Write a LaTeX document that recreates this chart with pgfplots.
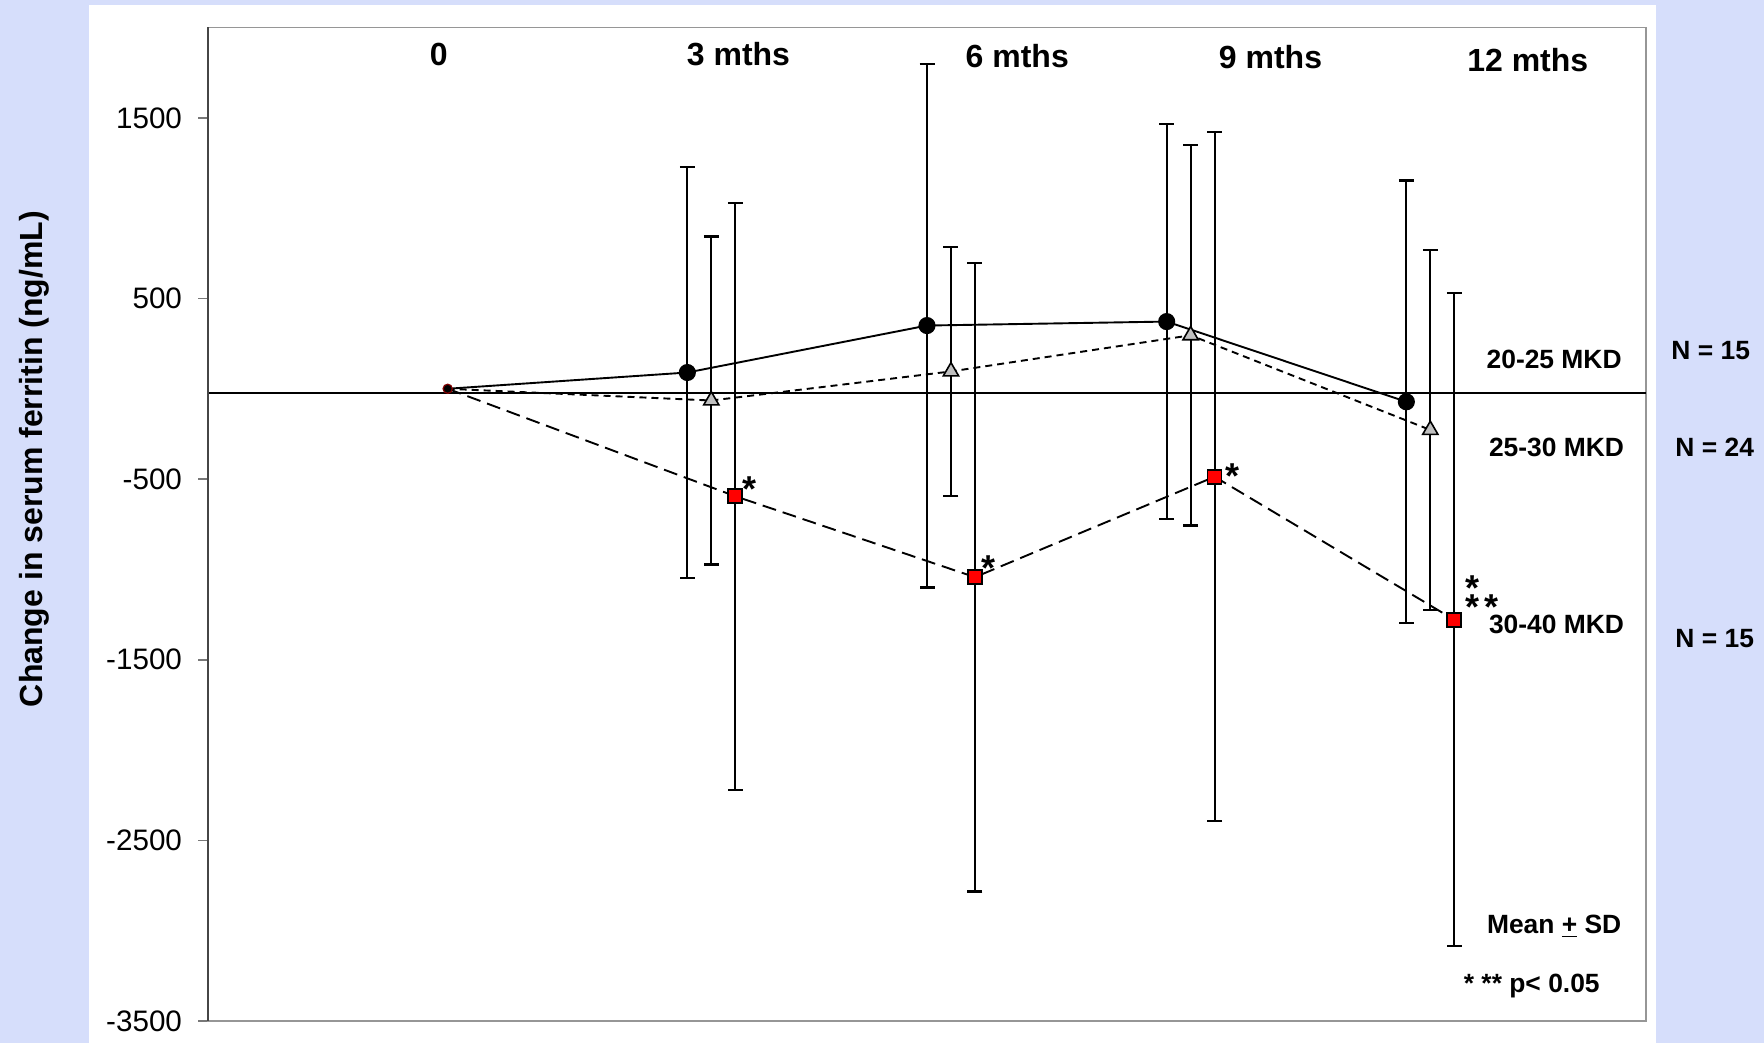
\documentclass[border=0pt]{standalone}
\usepackage{pgfplots}
\pgfplotsset{compat=1.18}
\usepackage{fontspec}
\setmainfont{Liberation Sans}
\definecolor{bgblue}{RGB}{214,222,251}
\definecolor{axdark}{RGB}{70,70,70}
\definecolor{axgray}{RGB}{150,150,150}
\definecolor{trigray}{RGB}{192,192,192}
\definecolor{sqred}{RGB}{255,0,0}

\begin{document}
\begin{tikzpicture}[x=1pt,y=1pt]
\useasboundingbox (0,0) rectangle (882,521.5);
\fill[bgblue] (0,0) rectangle (882,521.5);
\fill[white] (44.5,0) rectangle (828,519);
\node[rotate=90, font=\bfseries\fontsize{16}{19}\selectfont] at (17,292) {Change in serum ferritin (ng/mL)};
\begin{axis}[
  at={(104pt,11pt)}, anchor=south west,
  scale only axis, width=719pt, height=496.75pt,
  xmin=-3, xmax=15, ymin=-3500, ymax=2000,
  xtick=\empty,
  ytick={-3500,-2500,-1500,-500,500,1500},
  yticklabels={-3500,-2500,-1500,-500,500,1500},
  ytick pos=left,
  tick align=outside, major tick length=5pt,
  y tick style={axgray!80!black, line width=0.8pt},
  axis line style={axgray, line width=0.8pt},
  /pgf/number format/assume math mode=true,
  yticklabel style={font=\fontsize{14.8}{17}\selectfont, anchor=east, xshift=-4.5pt},
  clip=false,
]
% zero line
\addplot[black, line width=1pt, forget plot] coordinates {(-3,-22) (15,-22)};
% left axis line darker
\draw[axdark, line width=1pt] (rel axis cs:0,0) -- (rel axis cs:0,1);

% error bars (drawn first; their tiny point marks are hidden under the series markers)
\pgfplotsset{errstyle/.style={black, only marks, mark=*, mark size=1pt,
  error bars/.cd, y dir=both, y explicit,
  error bar style={draw=black, line width=1.1pt, solid},
  error mark=-,
  error mark options={rotate=90, draw=black, line width=1.1pt, mark size=3.75pt, solid}}}
\addplot[errstyle] coordinates {
  (3,90) +- (0,1137)
  (6,350) +- (0,1450)
  (9,372) +- (0,1095)
  (12,-72) +- (0,1225)
};
\addplot[errstyle] coordinates {
  (3.3,-65) +- (0,908)
  (6.3,96) +- (0,688)
  (9.3,296) +- (0,1053)
  (12.3,-228) +- (0,997)
};
\addplot[errstyle] coordinates {
  (3.6,-595) +- (0,1625)
  (6.6,-1043) +- (0,1740)
  (9.6,-487) +- (0,1908)
  (12.6,-1279) +- (0,1808)
};

% series lines with markers
\addplot[black, line width=0.95pt, mark=*, mark indices={2,3,4,5},
  mark options={solid, fill=black, draw=black, mark size=3.8pt}] coordinates {
  (0,0) (3,90) (6,350) (9,372) (12,-72)
};
\addplot[black, line width=0.95pt, dash pattern=on 3.5pt off 2.5pt, mark=triangle*, mark indices={2,3,4,5},
  mark options={solid, fill=trigray, draw=black, line width=0.8pt, mark size=4.4pt}] coordinates {
  (0,0) (3.3,-65) (6.3,96) (9.3,296) (12.3,-228)
};
\addplot[black, line width=0.95pt, dash pattern=on 7pt off 3.5pt, mark=square*, mark indices={2,3,4,5},
  mark options={solid, fill=sqred, draw=black, line width=0.8pt, mark size=3.5pt}] coordinates {
  (0,0) (3.6,-595) (6.6,-1043) (9.6,-487) (12.6,-1279)
};
% small origin marker
\addplot[only marks, mark=*, mark options={fill=black, draw=red!50!black, line width=0.6pt, mark size=2.3pt}] coordinates {(0,0)};

% top time labels
\begin{scope}[every node/.style={font=\bfseries\fontsize{16}{19}\selectfont}]
\node at (axis cs:-0.11,1850) {0};
\node at (axis cs:3.64,1855) {3 mths};
\node at (axis cs:7.13,1844) {6 mths};
\node at (axis cs:10.3,1836) {9 mths};
\node at (axis cs:13.52,1822) {12 mths};
\end{scope}

% significance stars
\begin{scope}[every node/.style={font=\bfseries\fontsize{18}{19}\selectfont, yshift=-3.8pt, inner sep=0pt}]
\node at (axis cs:3.78,-514) {*};
\node at (axis cs:6.77,-950) {*};
\node at (axis cs:9.82,-439) {*};
\end{scope}
\node[anchor=base west, inner sep=0pt, font=\bfseries\fontsize{18}{19}\selectfont]
  at (axis cs:12.73,-1277) {\rlap{\raisebox{9.5pt}{*}}*\hspace{2.7pt}*};

% right-side labels
\begin{scope}[every node/.style={font=\bfseries\fontsize{13.2}{16}\selectfont}]
\node at (axis cs:13.85,161) {20-25 MKD};
\node at (axis cs:13.88,-322) {25-30 MKD};
\node at (axis cs:13.88,-1306) {30-40 MKD};
\node at (axis cs:13.85,-2978) {Mean \underline{+} SD};
\node at (axis cs:13.57,-3306) {* ** p< 0.05};
\node at (axis cs:15.81,211) {N = 15};
\node at (axis cs:15.86,-322) {N = 24};
\node at (axis cs:15.86,-1383) {N = 15};
\end{scope}
\end{axis}
\end{tikzpicture}
\end{document}
